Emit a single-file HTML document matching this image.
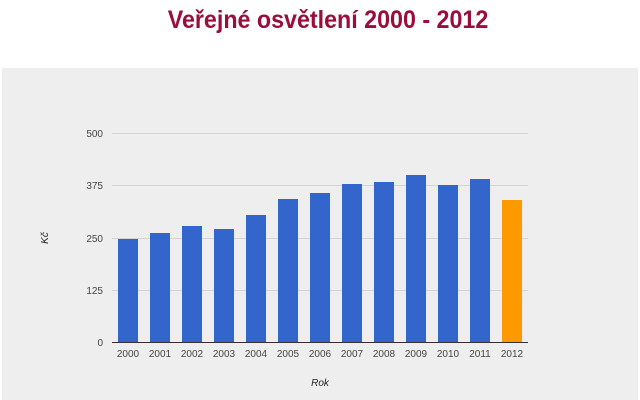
<!DOCTYPE html>
<html><head><meta charset="utf-8"><style>
body{margin:0;width:640px;height:400px;background:#fff;overflow:hidden;font-family:"Liberation Sans",Arial,sans-serif}
h1{position:absolute;top:2px;left:0;width:656px;margin:0;text-align:center;font-size:25px;line-height:36px;color:#9b0d3a;font-weight:bold;transform:scaleX(0.93);transform-origin:328px 0}
#p{position:absolute;left:2px;top:68px;width:636px;height:332px;background:#eee}
</style></head><body>
<h1>Veřejné osvětlení 2000 - 2012</h1>
<div id="p"></div>
<svg style="position:absolute;left:0;top:0" width="640" height="400" font-family="Liberation Sans, Arial, sans-serif" font-size="10" fill="#444">
<g stroke="#d4d4d4" stroke-width="1">
<line x1="112" x2="528" y1="133.5" y2="133.5"/><line x1="112" x2="528" y1="185.5" y2="185.5"/>
<line x1="112" x2="528" y1="238.5" y2="238.5"/><line x1="112" x2="528" y1="290.5" y2="290.5"/>
</g>
<g text-anchor="end"><text x="103" y="137">500</text><text x="103" y="189">375</text><text x="103" y="242">250</text><text x="103" y="294">125</text><text x="103" y="346">0</text></g>
<g fill="#3366cc">
<rect x="118" y="239" width="20" height="103"/><rect x="150" y="233" width="20" height="109"/>
<rect x="182" y="226" width="20" height="116"/><rect x="214" y="229" width="20" height="113"/>
<rect x="246" y="215" width="20" height="127"/><rect x="278" y="199" width="20" height="143"/>
<rect x="310" y="193" width="20" height="149"/><rect x="342" y="184" width="20" height="158"/>
<rect x="374" y="182" width="20" height="160"/><rect x="406" y="175" width="20" height="167"/>
<rect x="438" y="185" width="20" height="157"/><rect x="470" y="179" width="20" height="163"/>
</g>
<rect x="502" y="200" width="20" height="142" fill="#ff9900"/>
<line x1="112" x2="528" y1="342.5" y2="342.5" stroke="#333"/>
<g text-anchor="middle">
<text x="128" y="357">2000</text><text x="160" y="357">2001</text><text x="192" y="357">2002</text><text x="224" y="357">2003</text><text x="256" y="357">2004</text><text x="288" y="357">2005</text><text x="320" y="357">2006</text><text x="352" y="357">2007</text><text x="384" y="357">2008</text><text x="416" y="357">2009</text><text x="448" y="357">2010</text><text x="480" y="357">2011</text><text x="512" y="357">2012</text>
<text x="320" y="386" font-style="italic" fill="#222">Rok</text>
<text x="0" y="0" font-style="italic" fill="#222" transform="translate(48,238) rotate(-90)">Kč</text>
</g>
</svg>
</body></html>
